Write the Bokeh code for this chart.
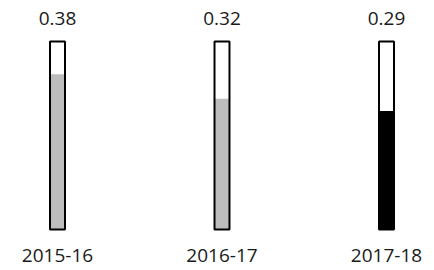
from bokeh.plotting import figure
from bokeh.models import ColumnDataSource, Range1d
from bokeh.core.properties import value
from bokeh.embed import file_html
from bokeh.resources import INLINE

years = ["2015-16", "2016-17", "2017-18"]
values = [0.38, 0.32, 0.29]
labels = ["0.38", "0.32", "0.29"]
fill_colors = ["#bdbdbd", "#bdbdbd", "#000000"]
scale_max = 0.46

xs = [0, 1, 2]
src = ColumnDataSource(dict(x=xs, v=values, lab=labels, yr=years, col=fill_colors,
                            top=[scale_max] * 3, zero=[0] * 3))

p = figure(width=434, height=270, output_backend="svg", toolbar_location=None,
           x_range=Range1d(-0.3465, 2.2918), y_range=Range1d(-0.1003, 0.5603),
           min_border=0)
p.axis.visible = False
p.grid.visible = False
p.outline_line_color = None
p.background_fill_color = "white"

p.vbar(x="x", width=0.091, bottom="zero", top="top", source=src,
       fill_color="white", line_color=None)
p.vbar(x="x", width=0.091, bottom="zero", top="v", source=src,
       fill_color="col", line_color=None)
p.vbar(x="x", width=0.091, bottom="zero", top="top", source=src,
       fill_alpha=0, line_color="black", line_width=2)

p.text(x="x", y="top", text="lab", source=src, y_offset=-23,
       text_align="center", text_baseline="middle", text_font=value("Open Sans"),
       text_font_size="19px", text_color="#1a1a1a")
p.text(x="x", y="zero", text="yr", source=src, y_offset=26,
       text_align="center", text_baseline="middle", text_font=value("Open Sans"),
       text_font_size="19px", text_color="#1a1a1a")

open("out.html", "w").write(file_html(p, INLINE))
